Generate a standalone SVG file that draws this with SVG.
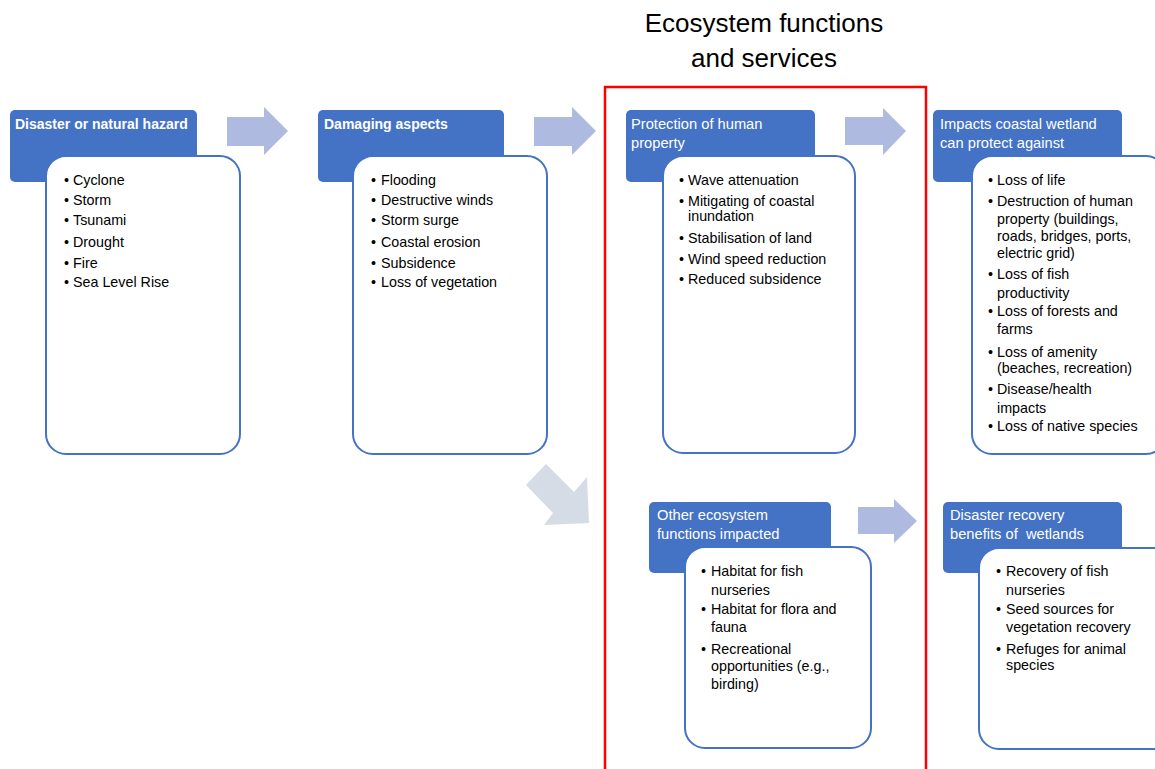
<svg xmlns="http://www.w3.org/2000/svg" width="1155" height="769" viewBox="0 0 1155 769">
<style>
.hdr{fill:#4472C4;}
.box{fill:#FFFFFF;stroke:#4472C4;stroke-width:2;}
.ht{font-family:"Liberation Sans",Arial,sans-serif;font-size:14.7px;fill:#FFFFFF;}
.hb{font-weight:bold;font-size:14px;}
.bt{font-family:"Liberation Sans",Arial,sans-serif;font-size:14.3px;fill:#000000;}
.arr{fill:#AEBADF;}
.arr2{fill:#D6DCE5;}
.title{font-family:"Liberation Sans",Arial,sans-serif;font-size:26px;fill:#000000;text-anchor:middle;}
</style>
<rect width="1155" height="769" fill="#FFFFFF"/>

<g id="title">
<text class="title" x="764" y="32">Ecosystem functions</text>
<text class="title" x="764" y="67">and services</text>
</g>

<g id="ecosystem-frame">
<rect x="605" y="87" width="321" height="700" fill="none" stroke="#FF0000" stroke-width="2.5"/>
</g>

<g id="connectors">
<polygon class="arr" points="227,117 264,117 264,107 288,131 264,155 264,146 227,146"/>
<polygon class="arr" points="534,117 572,117 572,107 596,131 572,155 572,146 534,146"/>
<polygon class="arr" points="845,117 883,117 883,108 906,131 883,155 883,145 845,145"/>
<polygon class="arr" points="858,507 894,507 894,499 917,521 894,543 894,534 858,534"/>
<polygon class="arr2" points="526,485 546,464 574,492 587,477 589,523 544,525 553,513"/>
</g>

<g id="node-hazard">
<rect class="hdr" x="10" y="110" width="187" height="72" rx="5"/>
<text class="ht hb" x="15" y="129">Disaster or natural hazard</text>
<rect class="box" x="46" y="156" width="194" height="298" rx="20"/>
<g class="bt">
<text x="64" y="185">•</text><text x="73" y="185">Cyclone</text>
<text x="64" y="205">•</text><text x="73" y="205">Storm</text>
<text x="64" y="225">•</text><text x="73" y="225">Tsunami</text>
<text x="64" y="247">•</text><text x="73" y="247">Drought</text>
<text x="64" y="268">•</text><text x="73" y="268">Fire</text>
<text x="64" y="287">•</text><text x="73" y="287">Sea Level Rise</text>
</g>
</g>

<g id="node-damaging">
<rect class="hdr" x="318" y="110" width="186" height="72" rx="5"/>
<text class="ht hb" x="324" y="129">Damaging aspects</text>
<rect class="box" x="353" y="156" width="194" height="298" rx="20"/>
<g class="bt">
<text x="371" y="185">•</text><text x="381" y="185">Flooding</text>
<text x="371" y="205">•</text><text x="381" y="205">Destructive winds</text>
<text x="371" y="225">•</text><text x="381" y="225">Storm surge</text>
<text x="371" y="247">•</text><text x="381" y="247">Coastal erosion</text>
<text x="371" y="268">•</text><text x="381" y="268">Subsidence</text>
<text x="371" y="287">•</text><text x="381" y="287">Loss of vegetation</text>
</g>
</g>

<g id="node-protection">
<rect class="hdr" x="626" y="110" width="189" height="72" rx="5"/>
<text class="ht" x="631" y="129">Protection of human</text>
<text class="ht" x="631" y="148">property</text>
<rect class="box" x="663" y="156" width="192" height="297" rx="20"/>
<g class="bt">
<text x="679" y="185">•</text><text x="688" y="185">Wave attenuation</text>
<text x="679" y="206">•</text><text x="688" y="206">Mitigating of coastal</text>
<text x="688" y="221">inundation</text>
<text x="679" y="243">•</text><text x="688" y="243">Stabilisation of land</text>
<text x="679" y="264">•</text><text x="688" y="264">Wind speed reduction</text>
<text x="679" y="284">•</text><text x="688" y="284">Reduced subsidence</text>
</g>
</g>

<g id="node-impacts">
<rect class="hdr" x="933" y="110" width="189" height="72" rx="5"/>
<text class="ht" x="940" y="129">Impacts coastal wetland</text>
<text class="ht" x="940" y="148">can protect against</text>
<rect class="box" x="972" y="156" width="194" height="298" rx="20"/>
<g class="bt">
<text x="988" y="185">•</text><text x="997" y="185">Loss of life</text>
<text x="988" y="206">•</text><text x="997" y="206">Destruction of human</text>
<text x="997" y="224">property (buildings,</text>
<text x="997" y="241">roads, bridges, ports,</text>
<text x="997" y="258">electric grid)</text>
<text x="988" y="279">•</text><text x="997" y="279">Loss of fish</text>
<text x="997" y="298">productivity</text>
<text x="988" y="316">•</text><text x="997" y="316">Loss of forests and</text>
<text x="997" y="334">farms</text>
<text x="988" y="357">•</text><text x="997" y="357">Loss of amenity</text>
<text x="997" y="373">(beaches, recreation)</text>
<text x="988" y="394">•</text><text x="997" y="394">Disease/health</text>
<text x="997" y="413">impacts</text>
<text x="988" y="431">•</text><text x="997" y="431">Loss of native species</text>
</g>
</g>

<g id="node-other">
<rect class="hdr" x="649" y="502" width="182" height="71" rx="5"/>
<text class="ht" x="657" y="520">Other ecosystem</text>
<text class="ht" x="657" y="539">functions impacted</text>
<rect class="box" x="685" y="547" width="186" height="201" rx="20"/>
<g class="bt">
<text x="701" y="576">•</text><text x="711" y="576">Habitat for fish</text>
<text x="711" y="595">nurseries</text>
<text x="701" y="614">•</text><text x="711" y="614">Habitat for flora and</text>
<text x="711" y="632">fauna</text>
<text x="701" y="654">•</text><text x="711" y="654">Recreational</text>
<text x="711" y="671">opportunities (e.g.,</text>
<text x="711" y="689">birding)</text>
</g>
</g>

<g id="node-recovery">
<rect class="hdr" x="943" y="502" width="179" height="71" rx="5"/>
<text class="ht" x="950" y="520">Disaster recovery</text>
<text class="ht" x="950" y="539" xml:space="preserve">benefits of  wetlands</text>
<rect class="box" x="979" y="548" width="194" height="201" rx="20"/>
<g class="bt">
<text x="996" y="576">•</text><text x="1006" y="576">Recovery of fish</text>
<text x="1006" y="595">nurseries</text>
<text x="996" y="614">•</text><text x="1006" y="614">Seed sources for</text>
<text x="1006" y="632">vegetation recovery</text>
<text x="996" y="654">•</text><text x="1006" y="654">Refuges for animal</text>
<text x="1006" y="670">species</text>
</g>
</g>
</svg>
